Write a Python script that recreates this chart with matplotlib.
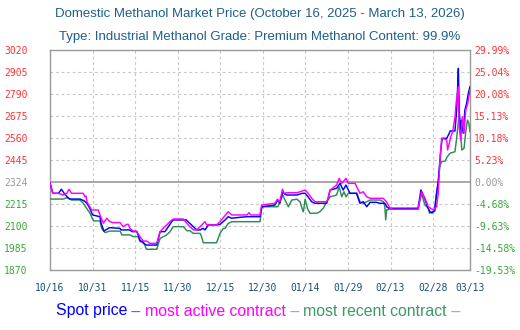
import matplotlib
matplotlib.use("Agg")
import matplotlib.pyplot as plt

# Day offsets counted from 2025-10-16; prices in yuan/tonne
spot_day = [0, 1, 3, 4, 5, 6, 7, 10.6, 12, 13, 14, 15, 17.6, 18, 19, 20, 21, 24.7, 25, 28,
            29, 30.6, 31.7, 33, 34, 37.6, 38.8, 40.5, 41.7, 42.9, 43.4, 48, 49.3, 50.5, 51.7,
            52.9, 54, 54.6, 55.8, 58.8, 59.9, 61.7, 62.8, 64, 67, 69.4, 74, 74.6, 79.3, 80.3,
            81, 82, 82.8, 83.5, 87, 88.8, 89.9, 90.9, 92.2, 93.4, 97.5, 98, 98.7, 101, 102.2,
            103.3, 104.3, 105.7, 108, 109.2, 110.4, 111.6, 112.8, 115, 116.3, 118, 118.7,
            119.4, 129.7, 130.7, 131.8, 133, 133.9, 134.6, 135.5, 136.2, 136.8, 137.4, 137.8,
            138.2, 139.8, 140.7, 141, 142.7, 143.3, 143.6, 143.9, 144.2, 144.7, 145, 145.6,
            146.2, 146.8, 147.4, 148]
spot_val = [2324, 2270, 2270, 2291, 2270, 2252, 2240, 2240, 2231, 2218, 2192, 2157, 2148,
            2114, 2073, 2082, 2091, 2087, 2079, 2079, 2070, 2070, 2026, 2009, 2000, 2000, 2070,
            2070, 2096, 2122, 2131, 2131, 2113, 2096, 2079, 2079, 2087, 2079, 2105, 2105, 2108,
            2131, 2148, 2140, 2145, 2148, 2148, 2200, 2209, 2235, 2218, 2278, 2265, 2261, 2261,
            2270, 2270, 2252, 2226, 2218, 2218, 2244, 2287, 2296, 2322, 2287, 2313, 2270, 2270,
            2218, 2226, 2200, 2223, 2223, 2218, 2218, 2199, 2192, 2192, 2287, 2252, 2200, 2174,
            2167, 2183, 2270, 2330, 2444, 2506, 2557, 2557, 2583, 2595, 2595, 2704, 2809, 2922,
            2704, 2583, 2652, 2583, 2704, 2739, 2791, 2826]

active_day = [0, 1, 3, 4.7, 5.9, 6.7, 7.6, 11.7, 12.3, 12.7, 13, 14.7, 17, 17.6, 18.8, 20,
              21.1, 22.3, 24.7, 25.8, 27, 27.6, 28.2, 29.3, 30.5, 31.7, 32.9, 34, 35.2, 37.6,
              38.8, 39.9, 42.3, 43.4, 47, 48.2, 49.3, 50.5, 51.7, 52.9, 54.6, 55.2, 58.7, 59.9,
              62.8, 64.1, 67, 69.4, 70.1, 70.8, 74, 74.6, 79.3, 80.1, 81, 81.9, 82.5, 83.5, 87,
              88.1, 89.9, 91, 92.2, 93.4, 97.5, 98, 98.7, 101, 101.9, 102.8, 104.3, 105.1,
              107.5, 109.2, 110.4, 111.6, 112.8, 117.4, 118.6, 119.8, 120.9, 129.7, 130.9,
              132.1, 133.3, 135.1, 136.2, 136.8, 137.4, 138, 139.2, 139.8, 140.1, 140.7, 141.2,
              141.9, 142.7, 143.1, 143.9, 144.2, 144.7, 145.3, 145.9, 146.5, 147.2, 148]
active_val = [2324, 2270, 2270, 2261, 2270, 2291, 2270, 2270, 2252, 2256, 2226, 2183, 2183,
              2157, 2114, 2140, 2122, 2117, 2117, 2096, 2108, 2108, 2087, 2073, 2073, 2044,
              2021, 2021, 2009, 2009, 2070, 2087, 2122, 2136, 2136, 2114, 2096, 2079, 2079,
              2096, 2122, 2105, 2105, 2122, 2174, 2157, 2157, 2157, 2169, 2157, 2157, 2209,
              2218, 2239, 2226, 2291, 2270, 2273, 2273, 2278, 2287, 2270, 2244, 2226, 2226,
              2244, 2287, 2313, 2348, 2322, 2348, 2322, 2322, 2270, 2278, 2252, 2244, 2244,
              2226, 2192, 2187, 2187, 2278, 2244, 2200, 2183, 2200, 2270, 2444, 2557, 2552,
              2548, 2496, 2531, 2565, 2591, 2669, 2739, 2826, 2617, 2548, 2669, 2583, 2704,
              2739, 2809]

recent_day = [0, 4.7, 5.9, 7, 7.6, 10.6, 11.7, 12.9, 14.1, 15.3, 17.6, 18.2, 19.4, 21.1,
              24.7, 25.3, 28.2, 29.3, 31.1, 31.7, 32.9, 34, 37.6, 38.8, 41.1, 42.3, 43.4, 47,
              48.2, 49.3, 50.5, 52.9, 53.4, 54, 58.7, 59.9, 61.1, 61.7, 62.8, 64.1, 65.9, 74,
              74.6, 75.2, 80.3, 81, 82, 82.8, 84, 85.2, 87, 88.1, 89, 89.3, 89.9, 90.7, 91.6,
              94, 95.1, 96.3, 97.5, 98.7, 101, 101.9, 102.8, 103.6, 104.3, 105.1, 108.2,
              109.2, 110.4, 111.6, 112.8, 116.3, 117.5, 118, 118.3, 118.6, 119.8, 129.7,
              130.9, 132.1, 133.3, 133.7, 134.5, 135.6, 136.2, 136.8, 137.4, 138, 139.2, 140,
              141, 142.7, 143.3, 143.9, 144.2, 144.7, 145.1, 145.9, 146.5, 147.1, 147.6, 148]
recent_val = [2240, 2240, 2247, 2240, 2235, 2235, 2218, 2192, 2166, 2126, 2126, 2087, 2065,
              2073, 2073, 2053, 2053, 2044, 2044, 2018, 2018, 1978, 1978, 2035, 2053, 2070,
              2096, 2096, 2075, 2075, 2061, 2061, 2044, 2012, 2012, 2061, 2087, 2087, 2113,
              2122, 2122, 2122, 2192, 2200, 2200, 2226, 2261, 2235, 2200, 2235, 2239, 2226,
              2183, 2174, 2239, 2192, 2166, 2166, 2174, 2192, 2226, 2252, 2261, 2304, 2252,
              2278, 2252, 2270, 2270, 2226, 2218, 2226, 2235, 2235, 2226, 2200, 2131, 2183,
              2187, 2187, 2270, 2209, 2192, 2166, 2174, 2174, 2261, 2330, 2418, 2435, 2438,
              2461, 2479, 2487, 2558, 2643, 2678, 2584, 2496, 2505, 2591, 2652, 2635, 2591]

x_tick_days = [0, 15, 30, 45, 60, 75, 90, 105, 120, 135, 148]
x_tick_labels = ["10/16", "10/31", "11/15", "11/30", "12/15", "12/30",
                 "01/14", "01/29", "02/13", "02/28", "03/13"]
price_ticks = [1870, 1985, 2100, 2215, 2330, 2445, 2560, 2675, 2790, 2905, 3020]
price_labels = ["1870", "1985", "2100", "2215", "2324", "2445", "2560", "2675",
                "2790", "2905", "3020"]
pct_labels = ["-19.53%", "-14.58%", "-9.63%", "-4.68%", "0.00%", "5.23%", "10.18%",
              "15.13%", "20.08%", "25.04%", "29.99%"]

RED, GREY, GREEN = "#ff3333", "#999999", "#33aa33"
TITLE_C = "#1f5f8b"
MONO = "DejaVu Sans Mono"

fig = plt.figure(figsize=(5.2, 3.3), dpi=100)
ax = fig.add_axes([50 / 520, 1 - 270 / 330, 420 / 520, 220.5 / 330])
ax.set_xlim(0, 148)
ax.set_ylim(1870, 3020)

for d in x_tick_days[1:-1]:
    ax.axvline(d, color="#c8c8c8", lw=0.8, ls=(0, (2.5, 2.5)), zorder=1)
for i, p in enumerate(price_ticks[1:-1], start=1):
    if i == 4:
        ax.axhline(p, color="#999999", lw=1.2, zorder=1)
    else:
        ax.axhline(p, color="#c8c8c8", lw=0.8, ls=(0, (2.5, 2.5)), zorder=1)

ax.plot(recent_day, recent_val, color="#2e8b57", lw=1.05, zorder=3)
ax.plot(spot_day, spot_val, color="#0000ff", lw=1.05, zorder=4)
ax.plot(active_day, active_val, color="#ff00ff", lw=1.05, zorder=5)

for s in ax.spines.values():
    s.set_color("#999999")
    s.set_linewidth(1.0)

ax.set_xticks(x_tick_days)
ax.set_xticklabels(x_tick_labels, fontfamily=MONO, fontsize=7, color="#1a4f7a")
ax.tick_params(axis="x", length=0, pad=9)

ax.set_yticks(price_ticks)
ax.set_yticklabels(price_labels, fontfamily=MONO, fontsize=7)
ax.tick_params(axis="y", length=0, pad=16)

ax2 = ax.twinx()
ax2.set_ylim(ax.get_ylim())
ax2.set_yticks(price_ticks)
ax2.set_yticklabels(pct_labels, fontfamily=MONO, fontsize=7)
ax2.tick_params(axis="y", length=0, pad=3)
for s in ax2.spines.values():
    s.set_visible(False)

def tick_color(i):
    return GREEN if i < 4 else (GREY if i == 4 else RED)

for i, t in enumerate(ax.get_yticklabels()):
    t.set_color(tick_color(i))
for i, t in enumerate(ax2.get_yticklabels()):
    t.set_color(tick_color(i))

fig.text(0.5, 1 - 14 / 330, "Domestic Methanol Market Price (October 16, 2025 - March 13, 2026)",
         ha="center", va="center", fontsize=9.5, color=TITLE_C, family="Liberation Sans")
fig.text(0.5, 1 - 37 / 330, "Type: Industrial Methanol Grade: Premium Methanol Content: 99.9%",
         ha="center", va="center", fontsize=9.5, color=TITLE_C, family="Liberation Sans")

# Colour-coded series key along the bottom
pieces = [("Spot price", "#0000ff"), (" \u2013 ", "#5c5cff"),
          ("most active contract", "#ff00ff"), (" \u2013 ", "#ff66ff"),
          ("most recent contract", "#3a9a68"), (" \u2013", "#7fbf9a")]
renderer = fig.canvas.get_renderer()
texts = []
x = 0
for s, c in pieces:
    t = fig.text(x, 1 - 311 / 330, s, color=c, fontsize=11.4, family="Liberation Sans",
                 ha="left", va="center")
    fig.canvas.draw()
    bb = t.get_window_extent(renderer)
    texts.append((t, bb.width))
    x += bb.width / fig.bbox.width
total = x
start = (258 / 520) - total / 2
for t, w in texts:
    t.set_x(start)
    start += w / fig.bbox.width

fig.savefig("out.png", dpi=100)
